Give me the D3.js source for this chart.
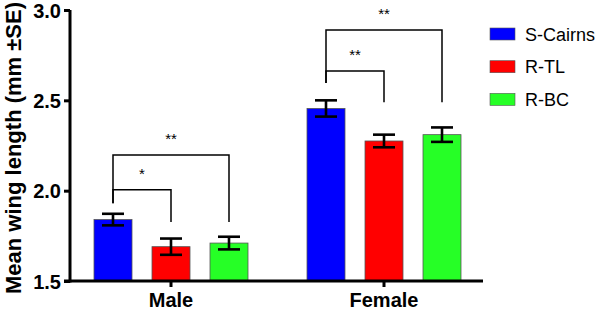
<!DOCTYPE html>
<html>
<head>
<meta charset="utf-8">
<script src="https://cdn.jsdelivr.net/npm/d3@7"></script>
<style>
  body { margin: 0; background: #fff; }
  text { font-family: Arial, "Liberation Sans", sans-serif; }
</style>
</head>
<body>
<svg id="chart" width="598" height="313"></svg>
<script>
var groups = ['Male', 'Female'];
var series = ['S-Cairns', 'R-TL', 'R-BC'];
var colors = ['#0000ff', '#ff0000', '#26ff26'];
var means = [
  [1.84, 1.69, 1.71],
  [2.455, 2.275, 2.31]
];
var se = [
  [0.032, 0.045, 0.035],
  [0.045, 0.035, 0.04]
];
var yTicks = [1.5, 2.0, 2.5, 3.0];

// significance brackets: group, from, to, label, bracket level, drop ends (left, right)
var sigs = [
  { group: 'Male', from: 'S-Cairns', to: 'R-TL', label: '*', level: 2.005, left: 1.93, right: 1.826 },
  { group: 'Male', from: 'S-Cairns', to: 'R-BC', label: '**', level: 2.198, left: 1.93, right: 1.826 },
  { group: 'Female', from: 'S-Cairns', to: 'R-TL', label: '**', level: 2.662, left: 2.596, right: 2.49 },
  { group: 'Female', from: 'S-Cairns', to: 'R-BC', label: '**', level: 2.889, left: 2.596, right: 2.49 }
];

var svg = d3.select('#chart');

var y = d3.scaleLinear().domain([1.5, 3.0]).range([281, 10]);
var x0 = d3.scaleBand().domain(groups).range([64.5, 490.5]).padding(0);
var x1 = d3.scaleBand().domain(series).range([-87, 87]).paddingInner(0.345).paddingOuter(0.1725);
var color = d3.scaleOrdinal().domain(series).range(colors);

function cx(g, s) {
  return x0(g) + x0.bandwidth() / 2 + x1(s) + x1.bandwidth() / 2;
}

var rows = [];
groups.forEach(function(g, gi) {
  series.forEach(function(s, si) {
    rows.push({ group: g, series: s, mean: means[gi][si], se: se[gi][si] });
  });
});

// bars
svg.append('g').selectAll('rect')
  .data(rows)
  .enter().append('rect')
  .attr('x', d => cx(d.group, d.series) - x1.bandwidth() / 2)
  .attr('y', d => y(d.mean))
  .attr('width', x1.bandwidth())
  .attr('height', d => y(1.5) - y(d.mean))
  .attr('fill', d => color(d.series))
  .attr('stroke', '#555')
  .attr('stroke-width', 0.8);

// error bars
var err = svg.append('g').attr('stroke', '#000').attr('stroke-width', 2.6);
err.selectAll('.stem')
  .data(rows)
  .enter().append('line')
  .attr('x1', d => cx(d.group, d.series))
  .attr('x2', d => cx(d.group, d.series))
  .attr('y1', d => y(d.mean + d.se))
  .attr('y2', d => y(d.mean - d.se));
err.selectAll('.capTop')
  .data(rows)
  .enter().append('line')
  .attr('x1', d => cx(d.group, d.series) - 11)
  .attr('x2', d => cx(d.group, d.series) + 11)
  .attr('y1', d => y(d.mean + d.se))
  .attr('y2', d => y(d.mean + d.se));
err.selectAll('.capBot')
  .data(rows)
  .enter().append('line')
  .attr('x1', d => cx(d.group, d.series) - 11)
  .attr('x2', d => cx(d.group, d.series) + 11)
  .attr('y1', d => y(d.mean - d.se))
  .attr('y2', d => y(d.mean - d.se));

// significance brackets
var sig = svg.append('g');
sig.selectAll('path')
  .data(sigs)
  .enter().append('path')
  .attr('fill', 'none')
  .attr('stroke', '#000')
  .attr('stroke-width', 1.5)
  .attr('d', d => {
    var a = cx(d.group, d.from), b = cx(d.group, d.to);
    return 'M' + a + ',' + y(d.left) + 'V' + y(d.level) + 'H' + b + 'V' + y(d.right);
  });
sig.selectAll('text')
  .data(sigs)
  .enter().append('text')
  .attr('x', d => (cx(d.group, d.from) + cx(d.group, d.to)) / 2)
  .attr('y', d => y(d.level) - 11)
  .attr('text-anchor', 'middle')
  .style('font-size', '15px')
  .text(d => d.label);

// y axis
var yAxis = svg.append('g')
  .attr('transform', 'translate(70,0)')
  .call(d3.axisLeft(y).tickValues(yTicks).tickFormat(d3.format('.1f')).tickSize(6).tickPadding(3));
yAxis.select('.domain').attr('stroke-width', 3).attr('d', 'M0,' + (y(1.5) + 1.5) + 'V' + y(3.0));
yAxis.selectAll('.tick line').attr('stroke-width', 3);
yAxis.selectAll('.tick text')
  .style('font-size', '20px').style('font-weight', 'bold')
  .attr('dy', '0.36em');

// x axis
var xAxis = svg.append('g')
  .attr('transform', 'translate(0,' + y(1.5) + ')');
xAxis.append('line')
  .attr('x1', 64).attr('x2', 483)
  .attr('stroke', '#000').attr('stroke-width', 3);
xAxis.selectAll('.xt')
  .data(groups)
  .enter().append('line')
  .attr('x1', d => x0(d) + x0.bandwidth() / 2)
  .attr('x2', d => x0(d) + x0.bandwidth() / 2)
  .attr('y1', 0).attr('y2', 6)
  .attr('stroke', '#000').attr('stroke-width', 3);
xAxis.selectAll('text')
  .data(groups)
  .enter().append('text')
  .attr('x', d => x0(d) + x0.bandwidth() / 2)
  .attr('y', 26)
  .attr('text-anchor', 'middle')
  .style('font-size', '20px').style('font-weight', 'bold')
  .text(d => d);

// y title
svg.append('text')
  .attr('transform', 'translate(21,148) rotate(-90)')
  .attr('text-anchor', 'middle')
  .style('font-size', '22px').style('font-weight', 'bold')
  .text('Mean wing length (mm \u00b1SE)');

// legend
var legend = svg.selectAll('.legend')
  .data(series)
  .enter().append('g')
  .attr('class', 'legend')
  .attr('transform', (d, i) => 'translate(490,' + (28 + i * 32.7) + ')');
legend.append('rect')
  .attr('width', 25).attr('height', 12)
  .attr('fill', d => color(d))
  .attr('stroke', '#555').attr('stroke-width', 0.6);
legend.append('text')
  .attr('x', 35).attr('y', 12.5)
  .style('font-size', '18px')
  .text(d => d);
</script>
</body>
</html>
